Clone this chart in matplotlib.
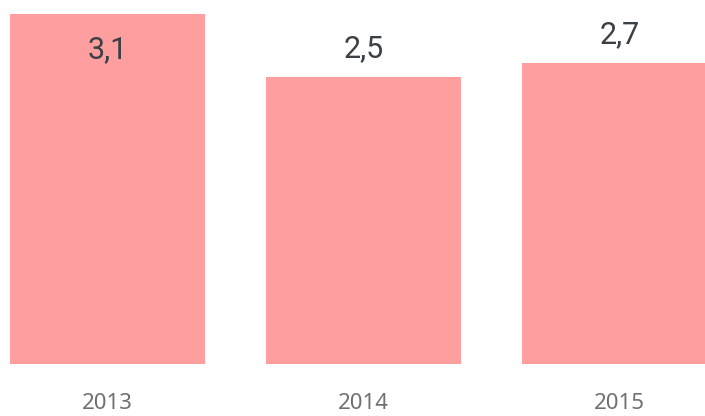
import matplotlib.pyplot as plt
import numpy as np

# Dados
anos = ['2013', '2014', '2015']
valores = [3.1, 2.54, 2.66]
cor_barra = '#ff9e9e'

fig = plt.figure(figsize=(7.05, 4.16), dpi=100)
ax = fig.add_axes([0, 0.125, 1, 0.875])

x = np.arange(len(anos))
ax.bar(x, valores, width=0.758, color=cor_barra)

# Rótulos dos valores (vírgula decimal)
for i, v in enumerate(valores):
    texto = f'{v:.1f}'.replace('.', ',')
    if v == max(valores):
        dy = -31.7  # dentro da barra
    else:
        dy = 14.4
    ax.annotate(texto, (x[i], v), xytext=(0, dy), textcoords='offset points',
                ha='center', va='baseline', fontsize=22, family='Roboto',
                color='#3b4046')

ax.set_xlim(-0.42, 2.334)
ax.set_ylim(0, 3.221)
ax.set_xticks(x)
ax.set_xticklabels(anos, fontsize=16, family='Noto Sans', color='#707070')
ax.tick_params(axis='x', length=0, pad=21)
ax.set_yticks([])
for s in ax.spines.values():
    s.set_visible(False)

fig.savefig('out.png', dpi=100)
